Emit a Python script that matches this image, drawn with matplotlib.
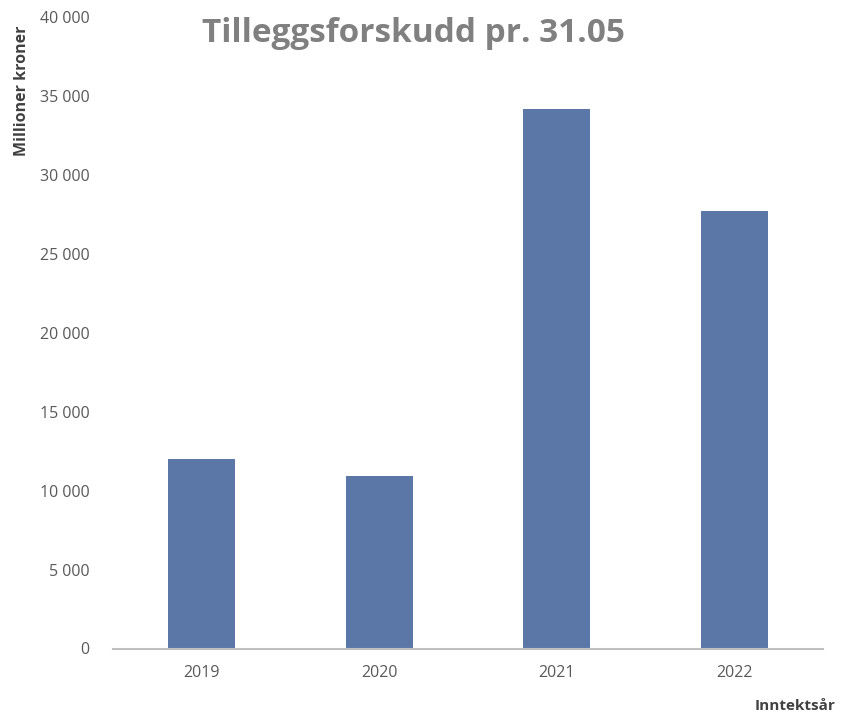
import matplotlib
matplotlib.use("Agg")
import matplotlib.pyplot as plt
from matplotlib.ticker import FuncFormatter

years = ["2019", "2020", "2021", "2022"]
values = [12000, 10900, 34200, 27700]
yticks = [0, 5000, 10000, 15000, 20000, 25000, 30000, 35000, 40000]

plt.rcParams['font.family'] = ['Open Sans', 'DejaVu Sans']

fig = plt.figure(figsize=(8.48, 7.15), dpi=100)
ax = fig.add_axes([113/848, 66.5/715, 710/848, 631.5/715])

x = range(len(years))
ax.bar(x, values, width=0.378, color='#5b77a8', zorder=2)

ax.set_xlim(-0.5, 3.5)
ax.set_ylim(0, 40000)
ax.set_yticks(yticks)
ax.yaxis.set_major_formatter(FuncFormatter(lambda v, p: f"{int(v):,}".replace(",", " ")))
ax.set_xticks(list(x))
ax.set_xticklabels(years)

for s in ['top', 'right', 'left']:
    ax.spines[s].set_visible(False)
ax.spines['bottom'].set_color('#bfbfbf')
ax.spines['bottom'].set_linewidth(1.5)

ax.tick_params(axis='y', length=0, pad=17, labelsize=11.5, labelcolor='#595959')
ax.tick_params(axis='x', length=0, pad=12, labelsize=11.5, labelcolor='#595959')

fig.text(413.5/848, 1 - 42/715, "Tilleggsforskudd pr. 31.05", ha='center', va='baseline',
         fontsize=24, fontweight='bold', color='#808080')
fig.text(22/848, 1 - 91/715, "Millioner kroner", ha='center', va='center', rotation=90,
         fontsize=11.5, fontweight='bold', color='#404040')
fig.text(835/848, 1 - 706/715, "Inntektsår", ha='right', va='center',
         fontsize=11, fontweight='bold', color='#404040')

fig.savefig("out.png", dpi=100)
